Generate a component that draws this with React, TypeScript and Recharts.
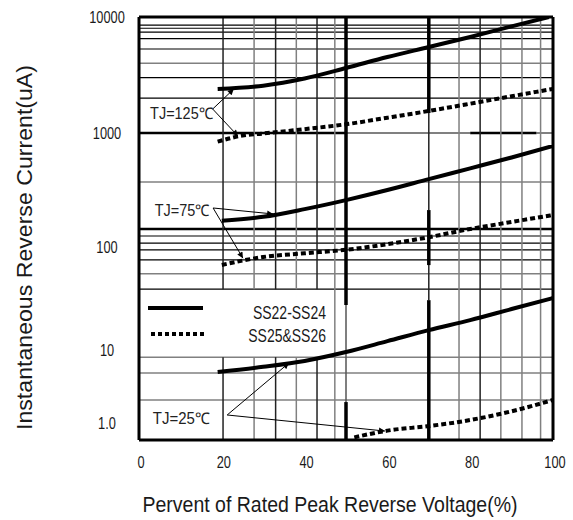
import React from 'react';
import {
  LineChart,
  Line,
  XAxis,
  YAxis,
  ReferenceLine,
  ReferenceDot,
  Legend,
  Label,
} from 'recharts';

// axes
const X_TICKS = [0, 20, 40, 60, 80, 100];
const Y_TICKS = [1, 10, 100, 1000, 10000];
const Y_TICK_LABELS = ['1.0', '10', '100', '1000', '10000'];
const Y_MIN = 0.59;
const Y_MAX = 10000;

// the scanned log paper has uneven decades: log10 knots and the relative height of each band
const PAPER_LOG = [-0.23, 0, 1, 2, 3, 4];
const PAPER_BAND = [17, 73, 103, 114, 116];

// TJ=125C
const X_125_SOLID = [19, 30, 40, 50, 60, 70, 80, 90, 99];
const Y_125_SOLID = [2400, 2560, 2950, 3630, 4520, 5510, 6730, 8300, 10000];
const X_125_DOT = [19, 25, 30, 40, 50, 60, 70, 80, 90, 100];
const Y_125_DOT = [840, 950, 990, 1080, 1190, 1355, 1550, 1790, 2075, 2400];
// TJ=75C
const X_75 = [20, 30, 40, 50, 60, 70, 80, 90, 100];
const Y_75_SOLID = [170, 184, 215, 258, 316, 394, 490, 610, 770];
const Y_75_DOT = [67, 80, 87, 94, 106, 122, 144, 166, 191];
// TJ=25C
const X_25_SOLID = [19, 30, 40, 50, 60, 70, 80, 90, 100];
const Y_25_SOLID = [5.0, 5.9, 7.1, 9.4, 12.2, 15.6, 19.5, 25, 32];
const X_25_DOT = [52, 60, 70, 80, 90, 100];
const Y_25_DOT = [0.64, 0.79, 0.91, 1.1, 1.45, 2.07];

const LEGEND_NAMES = ['SS22-SS24', 'SS25&SS26'];

// grid of the scanned paper
const Y_GRID_BLACK = [8500, 8000, 7400, 6500, 5300, 3000, 2000, 125, 108, 94, 75, 39];
const Y_GRID_GRAY = [4000, 372, 55, 8.0, 4.84, 2.07];
const Y_GRID_HEAVY = [144];
const GRID_1000_HEAVY = [[0, 50], [80, 96]];
const GRID_1000_GRAY = [[50, 80], [96, 100]];
const X_GRID_CUT = [20.3, 27.8, 33, 38, 43]; // broken by the legend box
const X_GRID_CUT_DARK = [true, false, true, false, true];
const LEGEND_GAP = [39, 8.0];
const X_GRID_DARK = [82.4];
const X_GRID_GRAY = [47.3, 77.3, 87.4, 92.5, 97];
const X_HEAVY_50 = [[Y_MAX, 27.4], [1.94, Y_MIN]];
const X_THIN_50 = [[27.4, 1.94]];
const X_HEAVY_70 = [[Y_MAX, 1487], [211, 66.8], [30.5, Y_MIN]];
const X_THIN_70 = [[1487, 211], [66.8, 30.5]];

// annotations
const NOTE_TEXT = ['TJ=125\u2103', 'TJ=75\u2103', 'TJ=25\u2103'];
const NOTE_TEXT_X = [17.9, 17.1, 17.1];
const NOTE_TEXT_Y = [1486, 211, 1.17];
const NOTE_WIDTH = [63, 55, 57];
const NOTE_FROM_X = [17.8, 17.9, 21.3];
const NOTE_FROM_Y = [1610, 220, 1.29];
const NOTE_SOLID_X = [22.9, 32.4, 36.2];
const NOTE_SOLID_Y = [2395, 195, 6.64];
const NOTE_DOT_X = [23.9, 25.1, 59.4];
const NOTE_DOT_Y = [941, 78, 0.78];

const SANS = "'Liberation Sans', Arial, sans-serif";
const INK = '#1a1a1a';

const zip = (xs: number[], ys: number[]) => xs.map((x, i) => ({ x, y: ys[i] }));

function paperPos(v: number) {
  const lg = Math.log10(Math.max(v, 1e-9));
  let acc = 0;
  for (let i = 0; i < PAPER_BAND.length; i++) {
    const a = PAPER_LOG[i];
    const b = PAPER_LOG[i + 1];
    if (lg <= b || i === PAPER_BAND.length - 1) {
      return acc + ((lg - a) / (b - a)) * PAPER_BAND[i];
    }
    acc += PAPER_BAND[i];
  }
  return acc;
}

// d3-like scale for the uneven log paper
function paperScale(): any {
  let dom = [Y_MIN, Y_MAX];
  let rng = [1, 0];
  const s: any = (v: number) => {
    const p0 = paperPos(Number(dom[0]));
    const p1 = paperPos(Number(dom[1]));
    const t = (paperPos(v) - p0) / (p1 - p0);
    return rng[0] + t * (rng[1] - rng[0]);
  };
  s.domain = (d?: number[]) => {
    if (d === undefined) return dom.slice();
    dom = d.slice();
    return s;
  };
  s.range = (r?: number[]) => {
    if (r === undefined) return rng.slice();
    rng = r.slice();
    return s;
  };
  s.ticks = () => Y_TICKS.slice();
  s.tickFormat = () => (v: number) => String(v);
  s.copy = () => paperScale().domain(dom).range(rng);
  return s;
}

const Y_SCALE = paperScale();

// condensed text, the scan uses a narrow face
function Narrow({ x, y, anchor = 'middle', size = 16, children }: any) {
  return (
    <g transform={`translate(${x} ${y}) scale(0.8 1)`}>
      <text x={0} y={0} dy="0.36em" textAnchor={anchor} fontSize={size} fontFamily={SANS} fill={INK}>
        {children}
      </text>
    </g>
  );
}

function XTick({ x, y, payload }: any) {
  return <Narrow x={x + 2} y={y + 14}>{payload.value}</Narrow>;
}

function YTick({ y, payload }: any) {
  const i = Y_TICKS.indexOf(payload.value);
  return <Narrow x={107} y={y}>{Y_TICK_LABELS[i]}</Narrow>;
}

function XTitle({ viewBox }: any) {
  const cx = viewBox.x + viewBox.width / 2 - 16;
  return (
    <text x={cx} y={512} textAnchor="middle" fontSize={22} fontFamily={SANS} fill={INK}
      textLength={375} lengthAdjust="spacingAndGlyphs">
      Pervent of Rated Peak Reverse Voltage(%)
    </text>
  );
}

function YTitle({ viewBox }: any) {
  const cx = 24;
  const cy = viewBox.y + viewBox.height / 2 + 19;
  return (
    <text
      x={cx}
      y={cy}
      dy="0.36em"
      transform={`rotate(-90 ${cx} ${cy})`}
      textAnchor="middle"
      fontSize={22}
      fontFamily={SANS}
      fill={INK}
      textLength={365}
      lengthAdjust="spacingAndGlyphs"
    >
      Instantaneous Reverse Current(uA)
    </text>
  );
}

function LegendBox() {
  return (
    <svg width={200} height={64} style={{ display: 'block' }}>
      <line x1={8} y1={16} x2={63} y2={16} stroke="#000" strokeWidth={4} />
      <line x1={11} y1={42} x2={65} y2={42} stroke="#000" strokeWidth={4} strokeDasharray="4 3" />
      <Narrow x={186} y={21} anchor="end" size={17.5}>{LEGEND_NAMES[0]}</Narrow>
      <Narrow x={186} y={44} anchor="end" size={17.5}>{LEGEND_NAMES[1]}</Narrow>
    </svg>
  );
}

const Arrow = (p: any) => (
  <line x1={p.x1} y1={p.y1} x2={p.x2} y2={p.y2} stroke="#000" strokeWidth={1} markerEnd="url(#tip)" />
);

const NoteText = (text: string, width: number) => (p: any) => (
  <text x={p.cx - width} y={p.cy} dy="0.36em" textAnchor="start" fontSize={16} fontFamily={SANS} fill="#222"
    textLength={width} lengthAdjust="spacingAndGlyphs">
    {text}
  </text>
);

const seg = (x1: number, y1: number, x2: number, y2: number) =>
  [{ x: x1, y: y1 }, { x: x2, y: y2 }] as any;

export default function App() {
  const solid = { type: 'monotone' as const, stroke: '#000', strokeWidth: 4, dot: false, isAnimationActive: false, dataKey: 'y' };
  const dotted = { ...solid, strokeDasharray: '5 3' };

  return (
    <div style={{ position: 'absolute', left: 0, top: 0, width: 573, height: 520, background: '#fff' }}>
      <LineChart width={573} height={520} margin={{ top: 17, right: 20, bottom: 50, left: 0 }}>
        <defs>
          <marker id="tip" viewBox="0 0 10 10" refX="10" refY="5" markerWidth="7" markerHeight="6" markerUnits="userSpaceOnUse" orient="auto">
            <path d="M0,0 L10,5 L0,10 z" fill="#000" />
          </marker>
        </defs>

        <XAxis
          dataKey="x"
          type="number"
          domain={[0, 100]}
          ticks={X_TICKS}
          allowDataOverflow
          tickLine={false}
          axisLine={{ stroke: '#000', strokeWidth: 3 }}
          tick={<XTick />}
          height={30}
        >
          <Label content={<XTitle />} />
        </XAxis>
        <YAxis
          type="number"
          scale={Y_SCALE}
          domain={[Y_MIN, Y_MAX]}
          ticks={Y_TICKS}
          allowDataOverflow
          tickLine={false}
          axisLine={{ stroke: '#000', strokeWidth: 3 }}
          tick={<YTick />}
          width={139}
        >
          <Label content={<YTitle />} />
        </YAxis>

        {Y_GRID_GRAY.map(v => (
          <ReferenceLine key={`yg${v}`} y={v} stroke="#808080" strokeWidth={1.5} />
        ))}
        {Y_GRID_BLACK.map(v => (
          <ReferenceLine key={`yb${v}`} y={v} stroke="#000" strokeWidth={1.2} />
        ))}
        {Y_GRID_HEAVY.map(v => (
          <ReferenceLine key={`yh${v}`} y={v} stroke="#000" strokeWidth={2.5} />
        ))}
        {GRID_1000_GRAY.map(([a, b]) => (
          <ReferenceLine key={`k${a}`} segment={seg(a, 1000, b, 1000)} stroke="#808080" strokeWidth={2} />
        ))}
        {GRID_1000_HEAVY.map(([a, b]) => (
          <ReferenceLine key={`kh${a}`} segment={seg(a, 1000, b, 1000)} stroke="#000" strokeWidth={2.5} />
        ))}

        {X_GRID_CUT.map((v, i) => (
          <ReferenceLine key={`xc${v}`} segment={seg(v, Y_MAX, v, LEGEND_GAP[0])} stroke={X_GRID_CUT_DARK[i] ? '#222' : '#808080'} strokeWidth={1.5} />
        ))}
        {X_GRID_CUT.map((v, i) => (
          <ReferenceLine key={`xd${v}`} segment={seg(v, LEGEND_GAP[1], v, Y_MIN)} stroke={X_GRID_CUT_DARK[i] ? '#222' : '#808080'} strokeWidth={1.5} />
        ))}
        {X_GRID_GRAY.map(v => (
          <ReferenceLine key={`xg${v}`} x={v} stroke="#808080" strokeWidth={1.5} />
        ))}
        {X_GRID_DARK.map(v => (
          <ReferenceLine key={`xk${v}`} x={v} stroke="#222" strokeWidth={1.5} />
        ))}
        {X_THIN_50.map(([a, b]) => (
          <ReferenceLine key={`t50${a}`} segment={seg(50, a, 50, b)} stroke="#555" strokeWidth={1.5} />
        ))}
        {X_HEAVY_50.map(([a, b]) => (
          <ReferenceLine key={`h50${a}`} segment={seg(50, a, 50, b)} stroke="#000" strokeWidth={3.5} />
        ))}
        {X_THIN_70.map(([a, b]) => (
          <ReferenceLine key={`t70${a}`} segment={seg(70, a, 70, b)} stroke="#222" strokeWidth={1.5} />
        ))}
        {X_HEAVY_70.map(([a, b]) => (
          <ReferenceLine key={`h70${a}`} segment={seg(70, a, 70, b)} stroke="#000" strokeWidth={3.5} />
        ))}
        <ReferenceLine y={Y_MAX} stroke="#000" strokeWidth={3} />
        <ReferenceLine x={100} stroke="#000" strokeWidth={3} />

        <Line {...solid} data={zip(X_125_SOLID, Y_125_SOLID)} name={LEGEND_NAMES[0]} />
        <Line {...dotted} data={zip(X_125_DOT, Y_125_DOT)} name={LEGEND_NAMES[1]} />
        <Line {...solid} data={zip(X_75, Y_75_SOLID)} legendType="none" />
        <Line {...dotted} data={zip(X_75, Y_75_DOT)} legendType="none" />
        <Line {...solid} data={zip(X_25_SOLID, Y_25_SOLID)} legendType="none" />
        <Line {...dotted} data={zip(X_25_DOT, Y_25_DOT)} legendType="none" />

        {NOTE_TEXT.map((t, i) => (
          <ReferenceDot key={t} x={NOTE_TEXT_X[i]} y={NOTE_TEXT_Y[i]} r={0} shape={NoteText(t, NOTE_WIDTH[i])} />
        ))}
        {NOTE_TEXT.map((t, i) => (
          <ReferenceLine
            key={`as${t}`}
            segment={seg(NOTE_FROM_X[i], NOTE_FROM_Y[i], NOTE_SOLID_X[i], NOTE_SOLID_Y[i])}
            shape={Arrow}
          />
        ))}
        {NOTE_TEXT.map((t, i) => (
          <ReferenceLine
            key={`ad${t}`}
            segment={seg(NOTE_FROM_X[i], NOTE_FROM_Y[i], NOTE_DOT_X[i], NOTE_DOT_Y[i])}
            shape={Arrow}
          />
        ))}

        <Legend
          layout="vertical"
          align="center"
          verticalAlign="middle"
          wrapperStyle={{ left: 140, top: 292, width: 200, height: 64 }}
          content={() => <LegendBox />}
        />
      </LineChart>
    </div>
  );
}
